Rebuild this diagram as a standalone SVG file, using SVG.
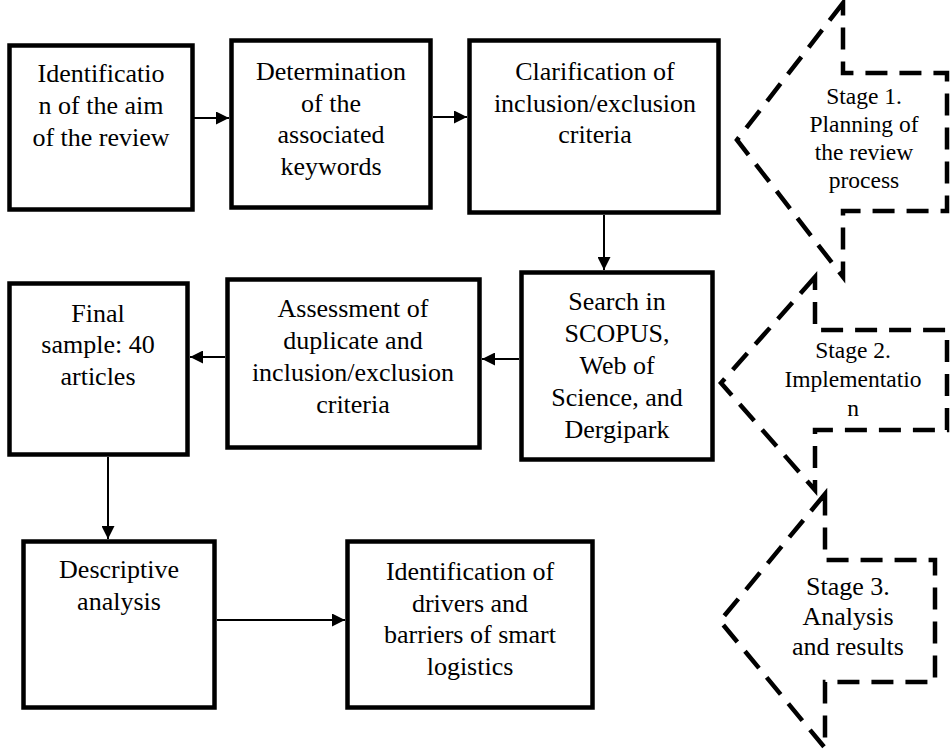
<svg xmlns="http://www.w3.org/2000/svg" width="952" height="751" viewBox="0 0 952 751">
  <style>
    .box { fill: #ffffff; stroke: #000000; stroke-width: 4.5; }
    .stage { fill: #ffffff; stroke: #000000; stroke-width: 4.5; stroke-dasharray: 22 12; stroke-linejoin: miter; }
    .conn { fill: none; stroke: #000000; stroke-width: 2; }
    text { font-family: "Liberation Serif", "Times New Roman", serif; fill: #000000; text-anchor: middle; }
    .t { font-size: 26px; }
    .s { font-size: 23.5px; }
  </style>
  <defs>
    <marker id="arrow" viewBox="0 0 12 12" refX="12" refY="6" markerWidth="13" markerHeight="13" markerUnits="userSpaceOnUse" orient="auto">
      <path d="M0,0 L12,6 L0,12 Z" fill="#000000"/>
    </marker>
  </defs>
  <rect width="952" height="751" fill="#ffffff"/>

  <g id="stage1">
    <path class="stage" d="M843,3 L737,140 L843,277 L843,211 L947,211 L947,73 L843,73 Z"/>
    <text class="s" x="864" y="104">Stage 1.</text>
    <text class="s" x="864" y="132">Planning of</text>
    <text class="s" x="864" y="160">the review</text>
    <text class="s" x="864" y="188">process</text>
  </g>
  <g id="stage2">
    <path class="stage" d="M815,277 L721,383 L815,490 L815,430 L947,430 L947,330 L815,330 Z"/>
    <text class="s" x="853" y="358">Stage 2.</text>
    <text class="s" x="853" y="387">Implementatio</text>
    <text class="s" x="853" y="416">n</text>
  </g>
  <g id="stage3">
    <path class="stage" d="M825,494 L720,621 L825,748 L825,682 L935,682 L935,560 L825,560 Z"/>
    <text class="t" x="848" y="595">Stage 3.</text>
    <text class="t" x="848" y="625">Analysis</text>
    <text class="t" x="848" y="655">and results</text>
  </g>

  <g id="connectors">
    <line class="conn" x1="193" y1="118" x2="229" y2="118" marker-end="url(#arrow)"/>
    <line class="conn" x1="433" y1="117" x2="467" y2="117" marker-end="url(#arrow)"/>
    <line class="conn" x1="604" y1="215" x2="604" y2="270" marker-end="url(#arrow)"/>
    <line class="conn" x1="519" y1="359" x2="482" y2="359" marker-end="url(#arrow)"/>
    <line class="conn" x1="225" y1="357" x2="190" y2="357" marker-end="url(#arrow)"/>
    <line class="conn" x1="108" y1="457" x2="108" y2="539" marker-end="url(#arrow)"/>
    <line class="conn" x1="217" y1="620" x2="345" y2="620" marker-end="url(#arrow)"/>
  </g>

  <g id="identify-aim">
    <rect class="box" x="9.5" y="45.5" width="183" height="164"/>
    <text class="t" x="101" y="82">Identificatio</text>
    <text class="t" x="101" y="114">n of the aim</text>
    <text class="t" x="101" y="146">of the review</text>
  </g>
  <g id="determine-keywords">
    <rect class="box" x="231.5" y="40.5" width="199" height="167"/>
    <text class="t" x="331" y="80">Determination</text>
    <text class="t" x="331" y="112">of the</text>
    <text class="t" x="331" y="143">associated</text>
    <text class="t" x="331" y="175">keywords</text>
  </g>
  <g id="clarify-criteria">
    <rect class="box" x="469.5" y="40.5" width="249" height="172"/>
    <text class="t" x="595" y="80">Clarification of</text>
    <text class="t" x="595" y="112">inclusion/exclusion</text>
    <text class="t" x="595" y="143">criteria</text>
  </g>
  <g id="search">
    <rect class="box" x="521.5" y="272.5" width="191" height="187"/>
    <text class="t" x="617" y="310">Search in</text>
    <text class="t" x="617" y="342">SCOPUS,</text>
    <text class="t" x="617" y="374">Web of</text>
    <text class="t" x="617" y="406">Science, and</text>
    <text class="t" x="617" y="438">Dergipark</text>
  </g>
  <g id="assessment">
    <rect class="box" x="227.5" y="279.5" width="252" height="168"/>
    <text class="t" x="353" y="317">Assessment of</text>
    <text class="t" x="353" y="349">duplicate and</text>
    <text class="t" x="353" y="381">inclusion/exclusion</text>
    <text class="t" x="353" y="413">criteria</text>
  </g>
  <g id="final-sample">
    <rect class="box" x="9.5" y="283.5" width="178" height="171"/>
    <text class="t" x="98" y="322">Final</text>
    <text class="t" x="98" y="353">sample: 40</text>
    <text class="t" x="98" y="385">articles</text>
  </g>
  <g id="descriptive">
    <rect class="box" x="23.5" y="541.5" width="191" height="166"/>
    <text class="t" x="119" y="578">Descriptive</text>
    <text class="t" x="119" y="610">analysis</text>
  </g>
  <g id="drivers-barriers">
    <rect class="box" x="347.5" y="541.5" width="245" height="166"/>
    <text class="t" x="470" y="580">Identification of</text>
    <text class="t" x="470" y="612">drivers and</text>
    <text class="t" x="470" y="643">barriers of smart</text>
    <text class="t" x="470" y="675">logistics</text>
  </g>
</svg>
